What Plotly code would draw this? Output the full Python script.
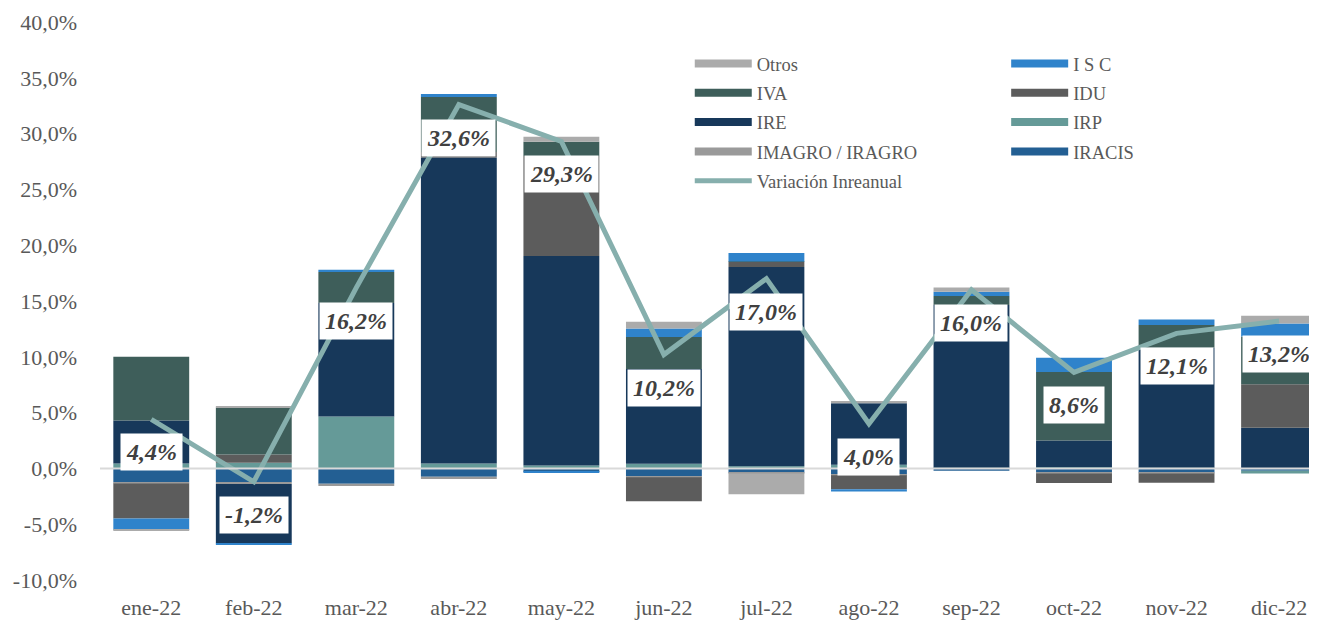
import plotly.graph_objects as go

months = ["ene-22", "feb-22", "mar-22", "abr-22", "may-22", "jun-22",
          "jul-22", "ago-22", "sep-22", "oct-22", "nov-22", "dic-22"]

# contributions (percentage points), stacking order bottom -> top
iracis = [-1.25, -1.25, -1.37, -0.75, -0.30, -0.70, -0.40, -0.57, -0.20, -0.40, -0.40, -0.20]
imagro = [-0.10, -0.15, -0.20, -0.20, -0.02, -0.10, -0.05, -0.05, 0.00, -0.05, -0.05, 0.00]
irp    = [0.45, 0.50, 4.65, 0.45, 0.27, 0.42, 0.20, 0.33, 0.05, 0.10, 0.05, -0.25]
ire    = [3.85, -5.30, 10.17, 27.40, 18.77, 8.49, 17.85, 5.50, 14.60, 2.40, 10.75, 3.65]
idu    = [-3.15, 0.75, 0.00, 0.50, 8.96, -2.15, 0.45, -1.25, 0.00, -0.85, -0.83, 3.90]
iva    = [5.70, 4.18, 2.77, 4.94, 1.27, 2.87, 0.05, 0.00, 0.80, 6.13, 2.04, 4.27]
isc    = [-1.00, -0.10, 0.20, 0.25, -0.05, 0.75, 0.76, -0.20, 0.37, 1.29, 0.50, 1.16]
otros  = [-0.10, 0.15, 0.00, 0.00, 0.45, 0.60, -1.87, 0.20, 0.40, 0.00, 0.00, 0.70]

variacion = [4.4, -1.2, 16.2, 32.6, 29.3, 10.2, 17.0, 4.0, 16.0, 8.6, 12.1, 13.2]

ytick_vals = [-10, -5, 0, 5, 10, 15, 20, 25, 30, 35, 40]
ytick_text = ["-10,0%", "-5,0%", "0,0%", "5,0%", "10,0%", "15,0%", "20,0%",
              "25,0%", "30,0%", "35,0%", "40,0%"]

series = [
    ("IRACIS", iracis, "#235F93", "legend2"),
    ("IMAGRO / IRAGRO", imagro, "#9A9A9A", "legend"),
    ("IRP", irp, "#659A98", "legend2"),
    ("IRE", ire, "#17385A", "legend"),
    ("IDU", idu, "#5C5C5C", "legend2"),
    ("IVA", iva, "#3E5E5A", "legend"),
    ("I S C", isc, "#2F83CB", "legend2"),
    ("Otros", otros, "#ABABAB", "legend"),
]
legend_rank = {"Otros": 1, "IVA": 2, "IRE": 3, "IMAGRO / IRAGRO": 4,
               "I S C": 1, "IDU": 2, "IRP": 3, "IRACIS": 4}

LINE_COLOR = "#86AFAD"
FONT = "Liberation Serif, Times New Roman, serif"

fig = go.Figure()
for name, vals, color, lg in series:
    fig.add_trace(go.Bar(x=months, y=vals, name=name, marker_color=color,
                         marker_line_width=0, width=0.74, showlegend=False,
                         legendgroup=name))
for name, vals, color, lg in series:
    fig.add_trace(go.Scatter(x=[None], y=[None], mode="lines", name=name,
                             line=dict(color=color, width=8), legend=lg,
                             legendgroup=name, legendrank=legend_rank[name]))

fig.add_trace(go.Scatter(x=months, y=variacion, mode="lines",
                         name="Variación Inreanual", legendgroup="var",
                         line=dict(color=LINE_COLOR, width=5),
                         legend="legend", legendrank=5))

for m, v in zip(months, variacion):
    fig.add_annotation(x=m, y=v, text="<b><i>" + f"{v:.1f}".replace(".", ",") + "%</i></b>",
                       showarrow=False, yshift=-33, yanchor="middle",
                       bgcolor="white", borderpad=5,
                       font=dict(family=FONT, size=24, color="#404040"))

fig.add_shape(type="line", xref="paper", yref="y", x0=0, x1=1, y0=0, y1=0,
              line=dict(color="#D9D9D9", width=2), layer="above")

legend_common = dict(bgcolor="rgba(0,0,0,0)", font=dict(family=FONT, size=18.5, color="#595959"),
                     tracegroupgap=2.3, orientation="v", xanchor="left", yanchor="top",
                     traceorder="grouped", itemwidth=57)

fig.update_layout(
    width=1317, height=620,
    barmode="relative",
    plot_bgcolor="white", paper_bgcolor="white",
    margin=dict(l=92, r=8, t=14, b=48),
    font=dict(family=FONT, color="#595959"),
    legend=dict(x=0.4846, y=0.959, **legend_common),
    legend2=dict(x=0.7446, y=0.959, **legend_common),
    xaxis=dict(range=[-0.5, 11.37], showgrid=False, showline=False, ticks="",
               tickfont=dict(family=FONT, size=22, color="#595959"),
               ticklabelstandoff=12, automargin=False),
    yaxis=dict(range=[-10, 40], tickvals=ytick_vals, ticktext=ytick_text,
               showgrid=False, zeroline=False, showline=False, ticks="",
               tickfont=dict(family=FONT, size=22, color="#595959"),
               ticklabelstandoff=22, automargin=False),
)

fig.write_html("out.html")
